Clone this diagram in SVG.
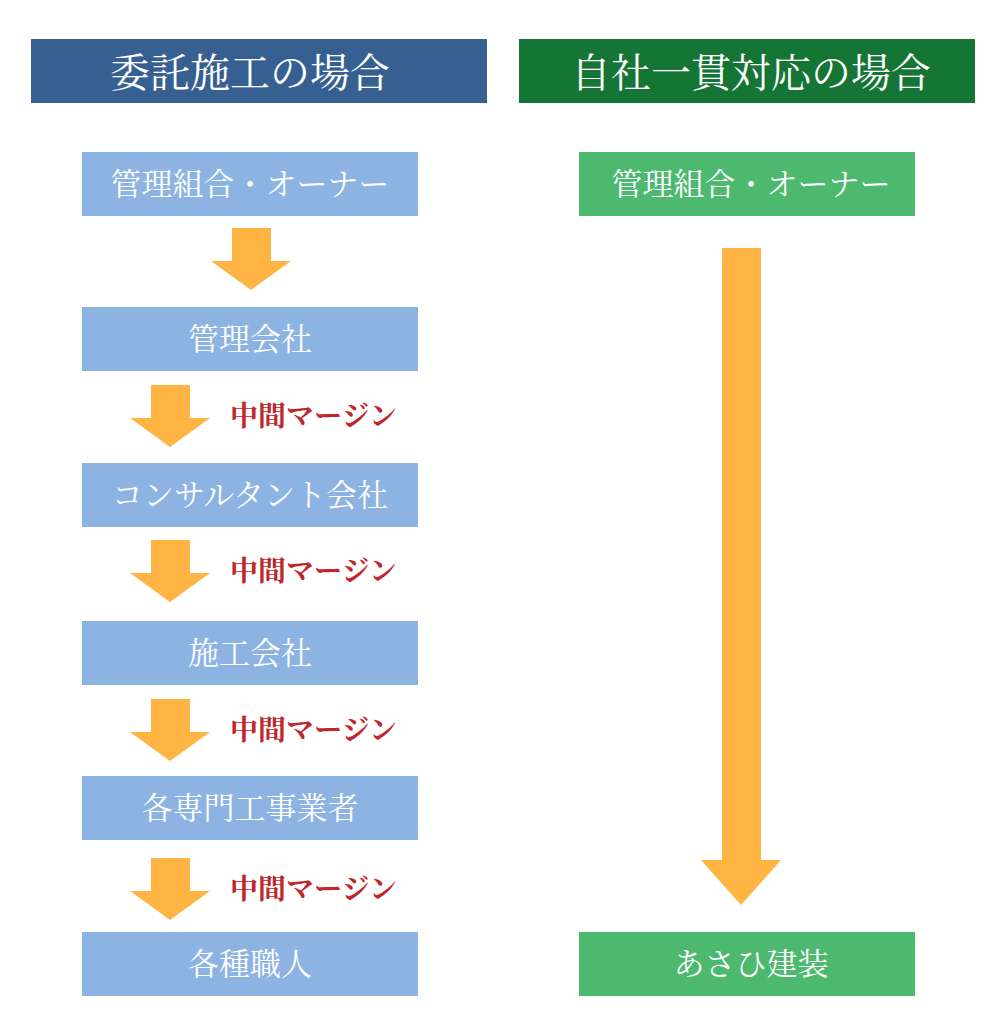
<svg xmlns="http://www.w3.org/2000/svg" width="1000" height="1024" viewBox="0 0 1000 1024">
<style>
text{font-family:"Noto Serif CJK JP","Noto Sans CJK JP",serif;text-anchor:middle;dominant-baseline:central}
.hd{fill:#fff;font-size:40px}
.bx{fill:#fff;font-size:31px}
.blue{fill:#8DB3E3}
.green{fill:#4CB96F}
.arr{fill:#FFB443}
.lbl{fill:#C0272D;font-size:28px;font-weight:bold;text-anchor:start}
</style>
<rect width="1000" height="1024" fill="#fff"/>
<g id="header-left"><rect x="31" y="39" width="456" height="64" fill="#376092"/><text class="hd" x="250" y="69">委託施工の場合</text></g>
<g id="header-right"><rect x="519" y="39" width="456" height="64" fill="#157534"/><text class="hd" x="751" y="69">自社一貫対応の場合</text></g>
<g id="l1"><rect class="blue" x="82" y="152" width="336" height="64"/><text class="bx" x="250" y="181">管理組合・オーナー</text></g>
<g id="l2"><rect class="blue" x="82" y="307" width="336" height="64"/><text class="bx" x="250" y="336">管理会社</text></g>
<g id="l3"><rect class="blue" x="82" y="463" width="336" height="64"/><text class="bx" x="250" y="492">コンサルタント会社</text></g>
<g id="l4"><rect class="blue" x="82" y="621" width="336" height="64"/><text class="bx" x="250" y="650">施工会社</text></g>
<g id="l5"><rect class="blue" x="82" y="776" width="336" height="64"/><text class="bx" x="250" y="805">各専門工事業者</text></g>
<g id="l6"><rect class="blue" x="82" y="932" width="336" height="64"/><text class="bx" x="250" y="961">各種職人</text></g>
<g id="r1"><rect class="green" x="579" y="152" width="336" height="64"/><text class="bx" x="751" y="181">管理組合・オーナー</text></g>
<g id="r2"><rect class="green" x="579" y="932" width="336" height="64"/><text class="bx" x="751" y="961">あさひ建装</text></g>
<g id="connectors">
<polygon class="arr" points="232,228 271,228 271,261 291,261 251,290 211,261 232,261"/>
<polygon class="arr" points="151,385 190,385 190,418 210,418 170,447 130,418 151,418"/>
<polygon class="arr" points="151,540 190,540 190,573 210,573 170,602 130,573 151,573"/>
<polygon class="arr" points="151,699 190,699 190,732 210,732 170,761 130,732 151,732"/>
<polygon class="arr" points="151,858 190,858 190,891 210,891 170,920 130,891 151,891"/>
<polygon class="arr" points="722,248 761,248 761,860 781,860 741,905 701,860 722,860"/>
<text class="lbl" x="230" y="414">中間マージン</text>
<text class="lbl" x="230" y="569">中間マージン</text>
<text class="lbl" x="230" y="728">中間マージン</text>
<text class="lbl" x="230" y="887">中間マージン</text>
</g>
</svg>
